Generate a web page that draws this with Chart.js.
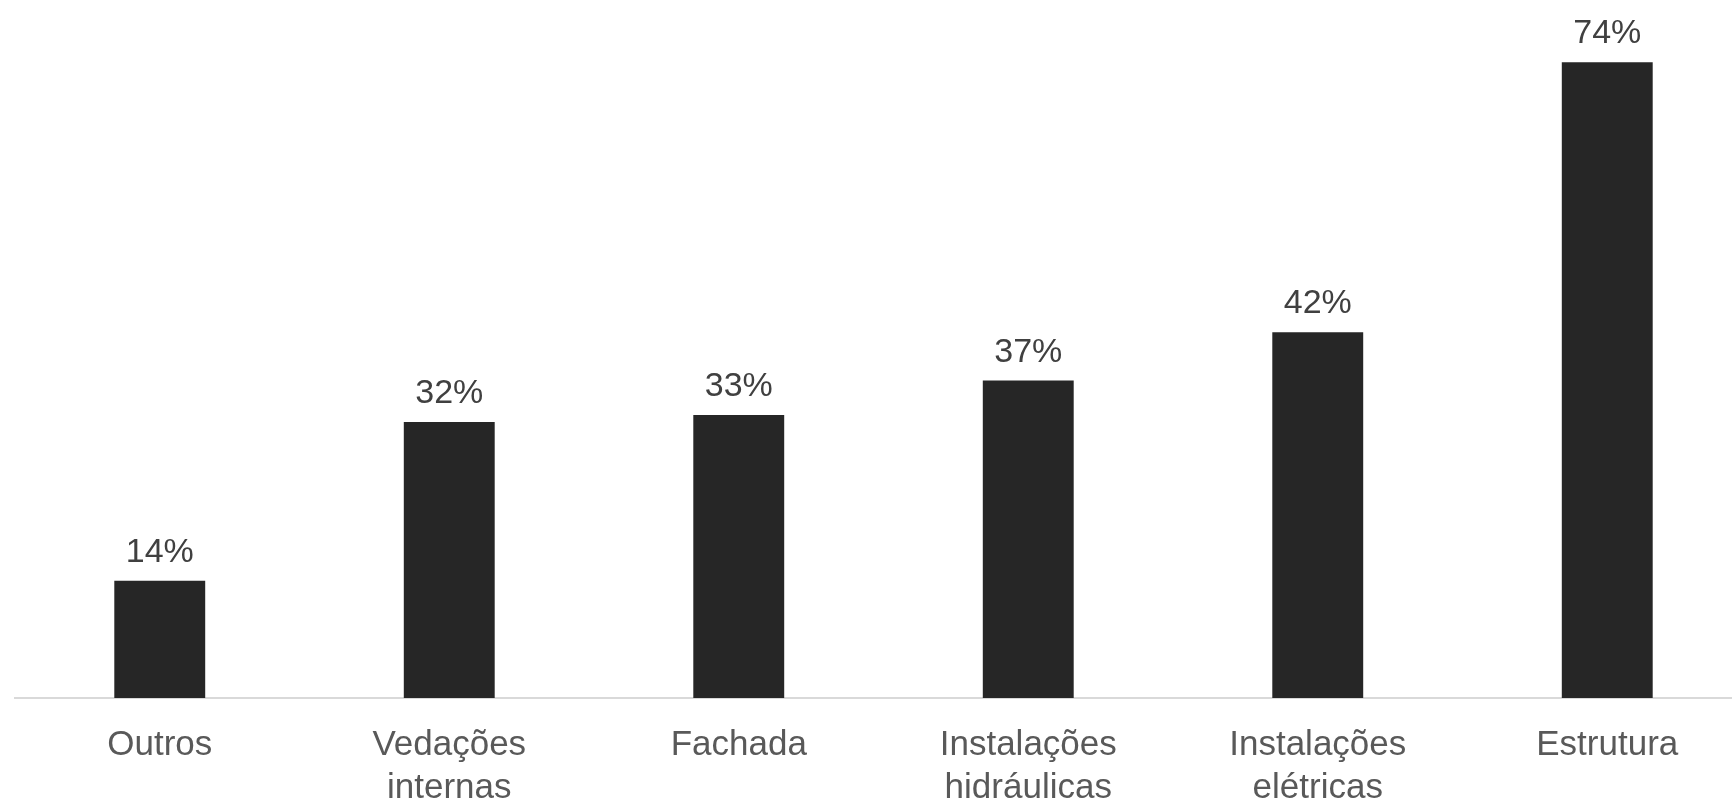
<!DOCTYPE html>
<html>
<head>
<meta charset="utf-8">
<script src="https://cdn.jsdelivr.net/npm/chart.js@4/dist/chart.umd.min.js"></script>
<style>
  html, body { margin: 0; padding: 0; background: #fff; overflow: hidden; }
  #wrap { position: relative; width: 1752px; height: 805px; }
</style>
</head>
<body>
<div id="wrap"><canvas id="chart"></canvas></div>
<script>
// categories (multi-line labels as arrays)
const categories = [
  'Outros',
  ['Vedações', 'internas'],
  'Fachada',
  ['Instalações', 'hidráulicas'],
  ['Instalações', 'elétricas'],
  'Estrutura'
];

// share of answers, in percent
const shares = [13.6, 32.0, 32.8, 36.8, 42.4, 73.7];

// value labels above the bars
const valueLabels = {
  id: 'valueLabels',
  afterDatasetsDraw(chart) {
    const ctx = chart.ctx;
    const meta = chart.getDatasetMeta(0);
    ctx.save();
    ctx.font = '34px "Liberation Sans", Arial, sans-serif';
    ctx.fillStyle = '#404040';
    ctx.textAlign = 'center';
    ctx.textBaseline = 'alphabetic';
    meta.data.forEach((bar, i) => {
      ctx.fillText(Math.round(shares[i]) + '%', bar.x, bar.y - 19);
    });
    ctx.restore();
  }
};

new Chart(document.getElementById('chart'), {
  type: 'bar',
  data: {
    labels: categories,
    datasets: [{
      data: shares,
      backgroundColor: '#262626',
      borderWidth: 0,
      barPercentage: 0.314,
      categoryPercentage: 1
    }]
  },
  options: {
    responsive: true,
    maintainAspectRatio: false,
    animation: false,
    layout: { padding: { left: 15, right: 0, top: 8, bottom: 0 } },
    plugins: {
      legend: { display: false },
      tooltip: { enabled: false }
    },
    scales: {
      x: {
        grid: { display: false, drawTicks: false },
        border: { display: true, color: '#d9d9d9', width: 2 },
        ticks: {
          color: '#595959',
          font: { family: '"Liberation Sans", Arial, sans-serif', size: 35, lineHeight: 1.23 },
          padding: 26,
          maxRotation: 0,
          autoSkip: false
        },
        afterFit(scale) { scale.height = 107; }
      },
      y: {
        display: false,
        min: 0,
        max: 80
      }
    }
  },
  plugins: [valueLabels]
});
</script>
</body>
</html>
